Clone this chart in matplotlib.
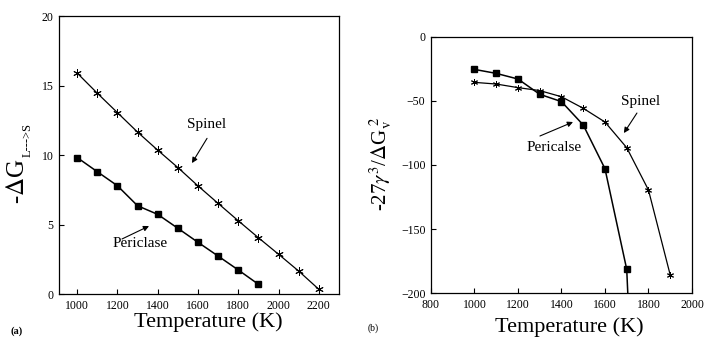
import numpy as np
import matplotlib
matplotlib.use("Agg")
import matplotlib.pyplot as plt

plt.rcParams["font.family"] = ["Liberation Serif", "DejaVu Serif"]
plt.rcParams["mathtext.fontset"] = "stix"

# (a) free energy of crystallization
temp_a = [1000, 1100, 1200, 1300, 1400, 1500, 1600, 1700, 1800, 1900, 2000, 2100, 2200]
spinel_a = [15.9, 14.45, 13.05, 11.65, 10.35, 9.1, 7.78, 6.52, 5.27, 4.05, 2.86, 1.65, 0.34]
temp_a_per = [1000, 1100, 1200, 1300, 1400, 1500, 1600, 1700, 1800, 1900]
periclase_a = [9.82, 8.8, 7.79, 6.35, 5.73, 4.73, 3.72, 2.73, 1.73, 0.7]

# (b) nucleation term
temp_b_sp = [1000, 1100, 1200, 1300, 1400, 1500, 1600, 1700, 1800, 1900]
spinel_b = [-35.6, -36.9, -39.7, -42.0, -46.8, -55.8, -66.5, -86.5, -119.5, -185.7]
temp_b_per = [1000, 1100, 1200, 1300, 1400, 1500, 1600, 1700, 1800]
periclase_b = [-25.5, -28.6, -33.0, -44.9, -50.6, -68.8, -102.9, -181.3, -560.0]

fig = plt.figure(figsize=(7.04, 3.41), dpi=100)
ax1 = fig.add_axes([0.0838, 0.1378, 0.3977, 0.8152])
ax2 = fig.add_axes([0.6122, 0.1399, 0.3707, 0.7525])

star = (6, 2, 0)
arrow = dict(arrowstyle="-|>", color="black", lw=0.8, mutation_scale=8,
             shrinkA=0, shrinkB=0)

for ax in (ax1, ax2):
    for s in ax.spines.values():
        s.set_linewidth(0.9)
    ax.tick_params(direction="in", length=3.5, width=0.8, labelsize=8.5, pad=4)


def label_arrow(ax, text, text_xy, tail, head):
    ax.text(text_xy[0], text_xy[1], text, fontsize=11, ha="center", va="center")
    ax.annotate("", xy=head, xytext=tail, arrowprops=arrow)


# panel (a)
ax1.plot(temp_a, spinel_a, color="black", lw=0.9, marker=star, ms=6, mew=0.7)
ax1.plot(temp_a_per, periclase_a, color="black", lw=1.1, marker="s", ms=5)
ax1.set_xlim(910, 2300)
ax1.set_ylim(0, 20)
ax1.set_xticks(np.arange(1000, 2201, 200))
ax1.set_yticks(np.arange(0, 21, 5))
label_arrow(ax1, "Spinel", (1645, 12.2), (1645, 11.2), (1570, 9.42))
label_arrow(ax1, "Periclase", (1312, 3.67), (1223, 3.96), (1357, 4.89))

# panel (b)
ax2.plot(temp_b_sp, spinel_b, color="black", lw=0.9, marker=star, ms=5, mew=0.7)
ax2.plot(temp_b_per, periclase_b, color="black", lw=1.1, marker="s", ms=5)
ax2.set_xlim(800, 2000)
ax2.set_ylim(-200, 0)
ax2.set_xticks(np.arange(800, 2001, 200))
ax2.set_yticks(np.arange(-200, 1, 50))
label_arrow(ax2, "Spinel", (1765, -50.2), (1747, -59.5), (1687, -75.1))
label_arrow(ax2, "Pericalse", (1366, -86.4), (1301, -77.4), (1453, -66.5))

# axis titles
fig.text(0.026, 0.47, r"-$\Delta$G", rotation=90, fontsize=18,
         ha="center", va="center")
fig.text(0.040, 0.59, "L--->S", rotation=90, fontsize=9,
         ha="center", va="center")
fig.text(0.296, 0.055, "Temperature (K)", fontsize=16, ha="center", va="center")
fig.text(0.540, 0.52, r"-27$\gamma^3$/$\Delta$G$_{\rm v}^{\ 2}$", rotation=90,
         fontsize=15, ha="center", va="center")
fig.text(0.808, 0.042, "Temperature (K)", fontsize=16, ha="center", va="center")
fig.text(0.024, 0.03, "(a)", fontsize=7.5, ha="center", va="center", weight="bold")
fig.text(0.530, 0.037, "(b)", fontsize=7, ha="center", va="center")

fig.savefig("out.png", dpi=100)
